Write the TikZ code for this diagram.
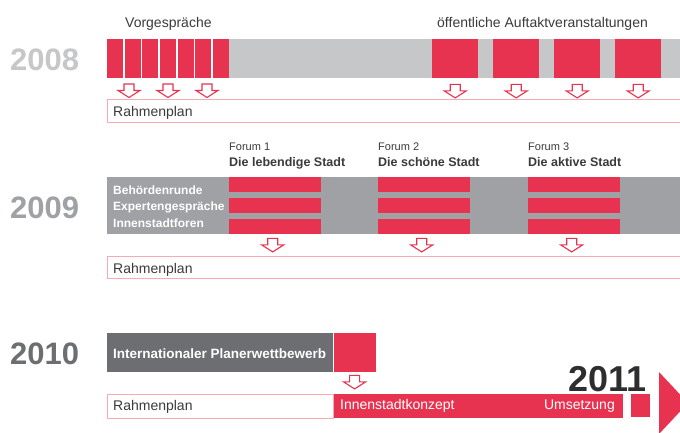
\documentclass[tikz,border=0pt]{standalone}
\usepackage{fontspec}
\setmainfont{Liberation Sans}
\usepackage{xcolor}
\usepackage{tikz}
\usetikzlibrary{positioning}
\definecolor{planred}{RGB}{232,51,80}
\definecolor{planpink}{RGB}{245,170,182}
\definecolor{bandlight}{RGB}{198,199,201}
\definecolor{bandmid}{RGB}{160,161,164}
\definecolor{banddark}{RGB}{109,110,113}
\definecolor{txtgray}{RGB}{58,58,60}
\begin{document}
\begin{tikzpicture}[x=1pt,y=-1pt,
  redblock/.style={fill=planred,draw=none,inner sep=0,anchor=north west},
  planbox/.style={draw=planpink,line width=1pt,inner sep=0,anchor=north west},
  lbl/.style={inner sep=0,anchor=base west,text=txtgray,font=\fontsize{14}{16}\selectfont},
  whitelbl/.style={inner sep=0,anchor=base west,text=white},
  year/.style={inner sep=0,anchor=base west,font=\fontsize{31}{34}\selectfont\bfseries},
  pics/hollowarrow/.style={code={\draw[planred,line width=1.1pt,fill=white](-5,0)--(5,0)--(5,6.5)--(11,6.5)--(0,13.5)--(-11,6.5)--(-5,6.5)--cycle;}}]
\useasboundingbox (0,0) rectangle (680,433);
\clip (0,0) rectangle (680,433);
% 2008
\node[year,text=bandlight] (y2008) at (10,71) {2008};
\fill[bandlight] (229,39) rectangle (680,78);
\foreach \i in {0,...,6}
  \node[redblock,minimum width=16pt,minimum height=39pt] (v\i) at ({107+17.6*\i},39) {};
\foreach \x [count=\i] in {432,493,554,615}
  \node[redblock,minimum width=46pt,minimum height=39pt] (a\i) at (\x,39) {};
\node[lbl] (vorg) at (125,28) {Vorgespräche};
\node[lbl] (auft) at (437,28) {öffentliche Auftaktveranstaltungen};
\foreach \x in {129,168,207} \pic at (\x,84) {hollowarrow};
\foreach \i in {1,...,4} \pic at ([yshift=-6pt]a\i.south) {hollowarrow};
\node[planbox,minimum width=590pt,minimum height=23pt] (rp1) at (107,99.5) {};
\node[lbl] (rp1t) at (113,117) {Rahmenplan};
% 2009
\node[year,text=bandmid] (y2009) at (10,218) {2009};
\fill[bandmid] (107,177) rectangle (680,234);
\foreach \x/\t [count=\i] in {229/Die lebendige Stadt,378/Die schöne Stadt,528/Die aktive Stadt}{
  \node[lbl,font=\fontsize{11}{13}\selectfont] (fn\i) at (\x,150) {Forum \i};
  \node[lbl,font=\fontsize{12.5}{14}\selectfont\bfseries] (ft\i) at (\x,167) {\t};
  \foreach \y [count=\j] in {177,198,219}
    \node[redblock,minimum width=92pt,minimum height=15pt] (f\i\j) at (\x,\y) {};
  \pic at ([xshift=-2.5pt,yshift=-4pt]f\i3.south) {hollowarrow};
}
\node[whitelbl,font=\fontsize{12}{14}\selectfont\bfseries] (beh) at (113,194) {Behördenrunde};
\node[whitelbl,font=\fontsize{12}{14}\selectfont\bfseries] (exp) at (113,210.5) {Expertengespräche};
\node[whitelbl,font=\fontsize{12}{14}\selectfont\bfseries] (inn) at (113,227) {Innenstadtforen};
\node[planbox,minimum width=590pt,minimum height=22pt] (rp2) at (107,256) {};
\node[lbl] (rp2t) at (113,273) {Rahmenplan};
% 2010
\node[year,text=banddark] (y2010) at (10,364) {2010};
\node[fill=banddark,inner sep=0,anchor=north west,minimum width=226pt,minimum height=39pt] (wettb) at (107,333) {};
\node[whitelbl,font=\fontsize{13.5}{15}\selectfont\bfseries] (wettbt) at (113,358) {Internationaler Planerwettbewerb};
\node[redblock,minimum width=42pt,minimum height=39pt] (wend) at (wettb.north east) {};
\pic at ([yshift=-3pt]wend.south) {hollowarrow};
\node[planbox,minimum width=226pt,minimum height=24pt] (rp3) at (107,394) {};
\node[lbl] (rp3t) at (113,410) {Rahmenplan};
\node[redblock,minimum width=289pt,minimum height=24pt] (konz) at (rp3.north east) {};
\node[whitelbl,font=\fontsize{14}{16}\selectfont] (konzt) at (340,409) {Innenstadtkonzept};
\node[whitelbl,anchor=base east,font=\fontsize{14}{16}\selectfont] (ums) at (615,409) {Umsetzung};
\node[redblock,minimum width=19pt,minimum height=23pt] (sq) at (631,394) {};
\fill[planred] (659,372) -- (688,403) -- (659,434) -- cycle;
\node[year,text=txtgray!80!black,font=\fontsize{36}{40}\selectfont\bfseries] (y2011) at (568,391) {2011};
\end{tikzpicture}
\end{document}
